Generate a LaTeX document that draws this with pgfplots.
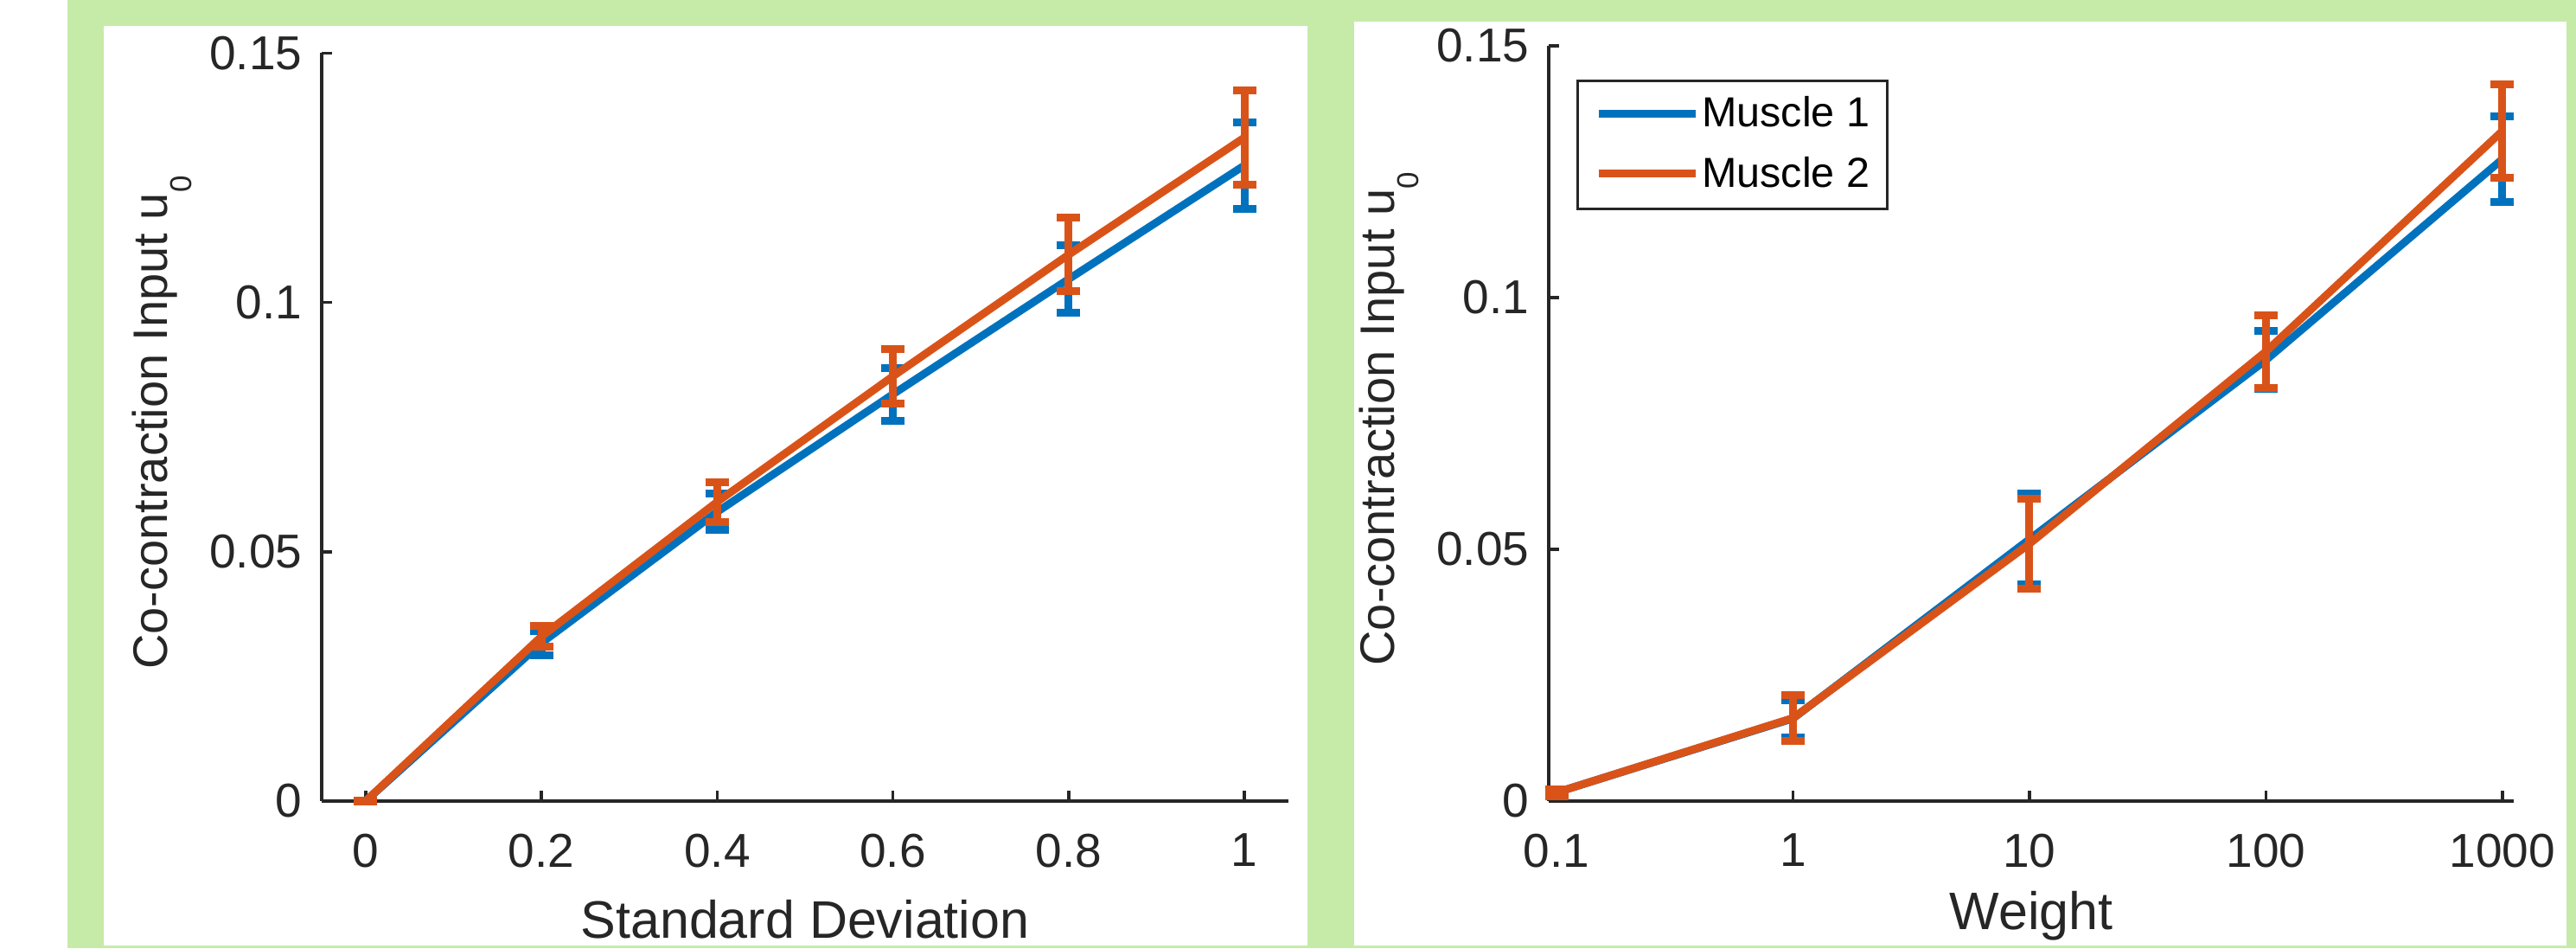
\documentclass[border=0pt]{standalone}
\usepackage{pgfplots}
\pgfplotsset{compat=1.18}
\usepackage{fontspec}
\setmainfont{Liberation Sans}
\definecolor{mblue}{RGB}{0,114,189}
\definecolor{morange}{RGB}{217,83,25}
\definecolor{bggreen}{RGB}{198,235,168}
\definecolor{axgray}{RGB}{38,38,38}

\newcommand{\ylab}{Co-contraction Input u\raisebox{-5.6pt}{\fontsize{7}{8}\selectfont 0}}

\pgfplotsset{
  mystyle/.style={
    scale only axis,
    anchor=south west,
    axis lines*=left,
    axis line style={axgray, line width=0.7pt},
    tick align=inside,
    major tick length=2.4pt,
    tick style={axgray, line width=0.7pt},
    ymin=0, ymax=0.15,
    ytick={0,0.05,0.1,0.15},
    yticklabels={0,0.05,0.1,0.15},
    tick label style={font=\fontsize{11}{12}\selectfont, text=axgray},
    xticklabel style={yshift=-4pt},
    yticklabel style={xshift=-1pt},
    xlabel style={font=\fontsize{12.2}{14}\selectfont, text=axgray},
    ylabel style={font=\fontsize{11.2}{13}\selectfont, text=axgray},
    ylabel={\ylab},
    error bars/error bar style={line width=1.8pt},
    error bars/error mark options={rotate=90, mark size=2.7pt, line width=1.8pt},
    clip=false,
  },
  bl/.style={color=mblue, line width=1.8pt, mark=none,
    error bars/.cd, y dir=both, y explicit},
  or/.style={color=morange, line width=1.8pt, mark=none,
    error bars/.cd, y dir=both, y explicit},
}

\begin{document}
\begin{tikzpicture}
\useasboundingbox (0,0) rectangle (595.8pt,219.2pt);
\fill[white] (0,0) rectangle (595.8pt,219.2pt);
\fill[bggreen] (15.6pt,0) rectangle (595.8pt,219.2pt);
\fill[white] (24pt,0.6pt) rectangle (302.4pt,213.2pt);
\fill[white] (313.2pt,0.6pt) rectangle (593.6pt,214.2pt);

\begin{axis}[mystyle,
  at={(74.4pt,34pt)},
  width=223.6pt, height=172.9pt,
  xmin=-0.05, xmax=1.05,
  xtick={0,0.2,0.4,0.6,0.8,1},
  xticklabels={0,0.2,0.4,0.6,0.8,1},
  xlabel={Standard Deviation},
  xlabel style={at={(axis description cs:0.5,-0.1585)}, anchor=center},
  ylabel style={at={(axis description cs:-0.1650,0.506)}, anchor=center},
]
\addplot[bl] coordinates {
 (0,0) +- (0,0.0001)
 (0.2,0.0317) +- (0,0.0024)
 (0.4,0.0580) +- (0,0.0036)
 (0.6,0.0816) +- (0,0.0053)
 (0.8,0.1047) +- (0,0.0068)
 (1,0.1275) +- (0,0.0087)
};
\addplot[or] coordinates {
 (0,0) +- (0,0.0001)
 (0.2,0.0330) +- (0,0.0021)
 (0.4,0.0600) +- (0,0.0040)
 (0.6,0.0852) +- (0,0.0055)
 (0.8,0.1096) +- (0,0.0074)
 (1,0.1331) +- (0,0.0094)
};
\end{axis}

\begin{axis}[mystyle,
  at={(358.2pt,34pt)},
  width=223.2pt, height=174.6pt,
  xmode=log,
  xmin=0.0927, xmax=1117,
  xtick={0.1,1,10,100,1000},
  xticklabels={0.1,1,10,100,1000},
  xminorticks=false,
  xlabel={Weight},
  xlabel style={at={(axis description cs:0.5,-0.1524)}, anchor=center},
  ylabel style={at={(axis description cs:-0.1653,0.506)}, anchor=center},
  legend image code/.code={\draw[#1, line width=1.8pt] (0pt,0.3pt) -- (22.4pt,0.3pt);},
  legend style={at={(axis description cs:0.0287,0.9553)}, anchor=north west,
    draw=axgray, line width=0.5pt, fill=white,
    font=\fontsize{9.7}{11}\selectfont,
    inner xsep=4pt, inner ysep=3.6pt, row sep=5.4pt, column sep=0.6pt,
    nodes={inner sep=0pt, text=black}, cells={anchor=west}},
]
\addplot[bl] coordinates {
 (0.1,0.0017) +- (0,0.0007)
 (1,0.0164) +- (0,0.0037)
 (10,0.0520) +- (0,0.0090)
 (100,0.0876) +- (0,0.0058)
 (1000,0.1275) +- (0,0.0085)
};
\addlegendentry{Muscle 1}
\addplot[or] coordinates {
 (0.1,0.0017) +- (0,0.0007)
 (1,0.0165) +- (0,0.0045)
 (10,0.0511) +- (0,0.0090)
 (100,0.0893) +- (0,0.0072)
 (1000,0.1331) +- (0,0.0093)
};
\addlegendentry{Muscle 2}
\end{axis}
\end{tikzpicture}
\end{document}
